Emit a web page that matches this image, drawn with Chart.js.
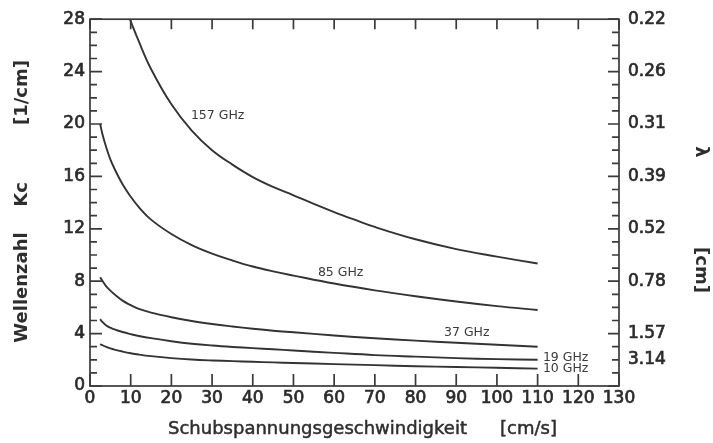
<!DOCTYPE html>
<html>
<head>
<meta charset="utf-8">
<script src="https://cdn.jsdelivr.net/npm/chart.js@4.4.1/dist/chart.umd.min.js"></script>
<style>
  html, body { margin: 0; padding: 0; background: #fff; }
  #wrap { width: 713px; height: 443px; position: relative; }
</style>
</head>
<body>
<div id="wrap"><canvas id="grafico"></canvas></div>
<script>
// Schubspannungsgeschwindigkeit u* [cm/s] und Wellenzahl Kc [1/cm]
const u157 = [9.8, 12, 15, 20, 25, 30, 35, 40, 45, 50, 55, 60, 65, 70, 80, 90, 100, 110];
const k157 = [28, 26.3, 24.2, 21.5, 19.5, 18.0, 16.9, 15.95, 15.2, 14.56, 13.9, 13.28, 12.7, 12.14, 11.2, 10.45, 9.88, 9.35];

const uNieder = [2.5, 3, 4, 5, 6, 8, 10, 12, 15, 20, 25, 30, 35, 40, 45, 50, 60, 70, 80, 90, 100, 110];
const k85 = [20, 19.3, 18.2, 17.3, 16.6, 15.4, 14.45, 13.65, 12.7, 11.6, 10.75, 10.1, 9.58, 9.12, 8.75, 8.43, 7.82, 7.3, 6.85, 6.45, 6.1, 5.8];
const k37 = [8.3, 8.05, 7.6, 7.28, 7.0, 6.52, 6.17, 5.88, 5.6, 5.25, 4.96, 4.73, 4.54, 4.37, 4.22, 4.1, 3.86, 3.64, 3.46, 3.3, 3.15, 3.0];
const k19 = [5.1, 4.9, 4.62, 4.45, 4.32, 4.12, 3.96, 3.82, 3.65, 3.42, 3.23, 3.09, 2.98, 2.89, 2.8, 2.71, 2.53, 2.36, 2.24, 2.13, 2.05, 2.0];
const k10 = [3.2, 3.12, 2.98, 2.87, 2.78, 2.63, 2.5, 2.4, 2.28, 2.13, 2.02, 1.95, 1.9, 1.85, 1.8, 1.76, 1.67, 1.59, 1.51, 1.45, 1.39, 1.33];

const frequenzen = ['157 GHz', '85 GHz', '37 GHz', '19 GHz', '10 GHz'];

// Wellenlaenge lambda [cm] auf der rechten Achse
const lambdaK = [28, 24, 20, 16, 12, 8, 4, 2];
const lambdaText = ['0.22', '0.26', '0.31', '0.39', '0.52', '0.78', '1.57', '3.14'];

const farbe = '#333333';

function punkte(us, ks) {
  return us.map((u, i) => ({ x: u, y: ks[i] }));
}

function kurve(label, us, ks) {
  return {
    label: label,
    data: punkte(us, ks),
    borderColor: farbe,
    borderWidth: 1.9,
    pointRadius: 0,
    fill: false,
    tension: 0.4
  };
}

// Rahmen, nach innen zeigende Striche, Beschriftungen
const rahmen = {
  id: 'rahmen',
  beforeDraw(chart) {
    const ctx = chart.ctx;
    ctx.save();
    ctx.fillStyle = '#ffffff';
    ctx.fillRect(0, 0, chart.width, chart.height);
    ctx.restore();
  },
  afterDraw(chart) {
    const { ctx, chartArea: a, scales } = chart;
    ctx.save();
    ctx.strokeStyle = '#3a3a3a';
    ctx.lineWidth = 1.7;
    ctx.strokeRect(a.left, a.top, a.right - a.left, a.bottom - a.top);

    ctx.beginPath();
    scales.y.ticks.forEach(t => {
      const py = scales.y.getPixelForValue(t.value);
      const len = t.value % 4 === 0 ? 12 : 7;
      ctx.moveTo(a.left, py);
      ctx.lineTo(a.left + len, py);
    });
    scales.y2.ticks.forEach(t => {
      const py = scales.y2.getPixelForValue(t.value);
      const len = t.value % 4 === 0 ? 11 : 7;
      ctx.moveTo(a.right, py);
      ctx.lineTo(a.right - len, py);
    });
    scales.x.ticks.forEach(t => {
      const px = scales.x.getPixelForValue(t.value);
      ctx.moveTo(px, a.bottom);
      ctx.lineTo(px, a.bottom - 12);
      ctx.moveTo(px, a.top);
      ctx.lineTo(px, a.top + 10);
    });
    ctx.stroke();

    // Frequenzen an den Kurven
    const anker = [[24.8, 20.65], [56.0, 8.67], [87.0, 4.07], [111.3, 2.19], [111.3, 1.28]];
    ctx.fillStyle = '#3a3a3a';
    ctx.font = '12.5px "DejaVu Sans"';
    ctx.textAlign = 'left';
    ctx.textBaseline = 'middle';
    frequenzen.forEach((f, i) => {
      ctx.fillText(f, scales.x.getPixelForValue(anker[i][0]), scales.y.getPixelForValue(anker[i][1]));
    });

    // Achsentitel
    ctx.fillStyle = '#2e2e2e';
    ctx.strokeStyle = '#2e2e2e';
    ctx.lineWidth = 0.5;
    ctx.font = '18px "DejaVu Sans"';
    ctx.textAlign = 'center';
    ctx.textBaseline = 'alphabetic';
    ctx.strokeText('Schubspannungsgeschwindigkeit', 317.5, 434);
    ctx.fillText('Schubspannungsgeschwindigkeit', 317.5, 434);
    ctx.strokeText('[cm/s]', 528.5, 434);
    ctx.fillText('[cm/s]', 528.5, 434);

    ctx.font = 'bold 18px "DejaVu Sans"';
    ctx.textBaseline = 'middle';
    [['Wellenzahl', 287.5], ['Kc', 194.5], ['[1/cm]', 92.5]].forEach(([txt, y]) => {
      ctx.save();
      ctx.translate(22, y);
      ctx.rotate(-Math.PI / 2);
      ctx.fillText(txt, 0, 0);
      ctx.restore();
    });
    [['λ', 152], ['[cm]', 270]].forEach(([txt, y]) => {
      ctx.save();
      ctx.translate(701, y);
      ctx.rotate(Math.PI / 2);
      ctx.fillText(txt, 0, 0);
      ctx.restore();
    });
    ctx.restore();
  }
};

const tickFont = { family: 'DejaVu Sans', size: 17 };
const tickText = { color: '#2a2a2a', font: tickFont, textStrokeColor: '#2a2a2a', textStrokeWidth: 0.7 };

new Chart(document.getElementById('grafico').getContext('2d'), {
  type: 'line',
  data: {
    datasets: [
      kurve(frequenzen[0], u157, k157),
      kurve(frequenzen[1], uNieder, k85),
      kurve(frequenzen[2], uNieder, k37),
      kurve(frequenzen[3], uNieder, k19),
      kurve(frequenzen[4], uNieder, k10)
    ]
  },
  options: {
    responsive: true,
    maintainAspectRatio: false,
    devicePixelRatio: 1,
    animation: false,
    layout: { padding: { top: 14.5, left: 0, right: 0, bottom: 0 } },
    plugins: {
      legend: { display: false },
      tooltip: { enabled: false }
    },
    scales: {
      x: {
        type: 'linear',
        min: 0,
        max: 130,
        grid: { display: false, drawTicks: false },
        border: { display: false },
        ticks: { ...tickText, stepSize: 10, autoSkip: false, maxRotation: 0, padding: 2 },
        afterFit(scale) { scale.height = 57; }
      },
      y: {
        position: 'left',
        min: 0,
        max: 28,
        grid: { display: false, drawTicks: false },
        border: { display: false },
        ticks: {
          ...tickText,
          stepSize: 1,
          autoSkip: false,
          padding: 5,
          callback: v => (v % 4 === 0 ? v : '')
        },
        afterFit(scale) { scale.width = 90; }
      },
      y2: {
        position: 'right',
        min: 0,
        max: 28,
        grid: { display: false, drawTicks: false },
        border: { display: false },
        ticks: {
          ...tickText,
          stepSize: 1,
          autoSkip: false,
          padding: 9,
          callback: v => {
            const i = lambdaK.indexOf(v);
            return i >= 0 ? lambdaText[i] : '';
          }
        },
        afterFit(scale) { scale.width = 94; }
      }
    }
  },
  plugins: [rahmen]
});
</script>
</body>
</html>
